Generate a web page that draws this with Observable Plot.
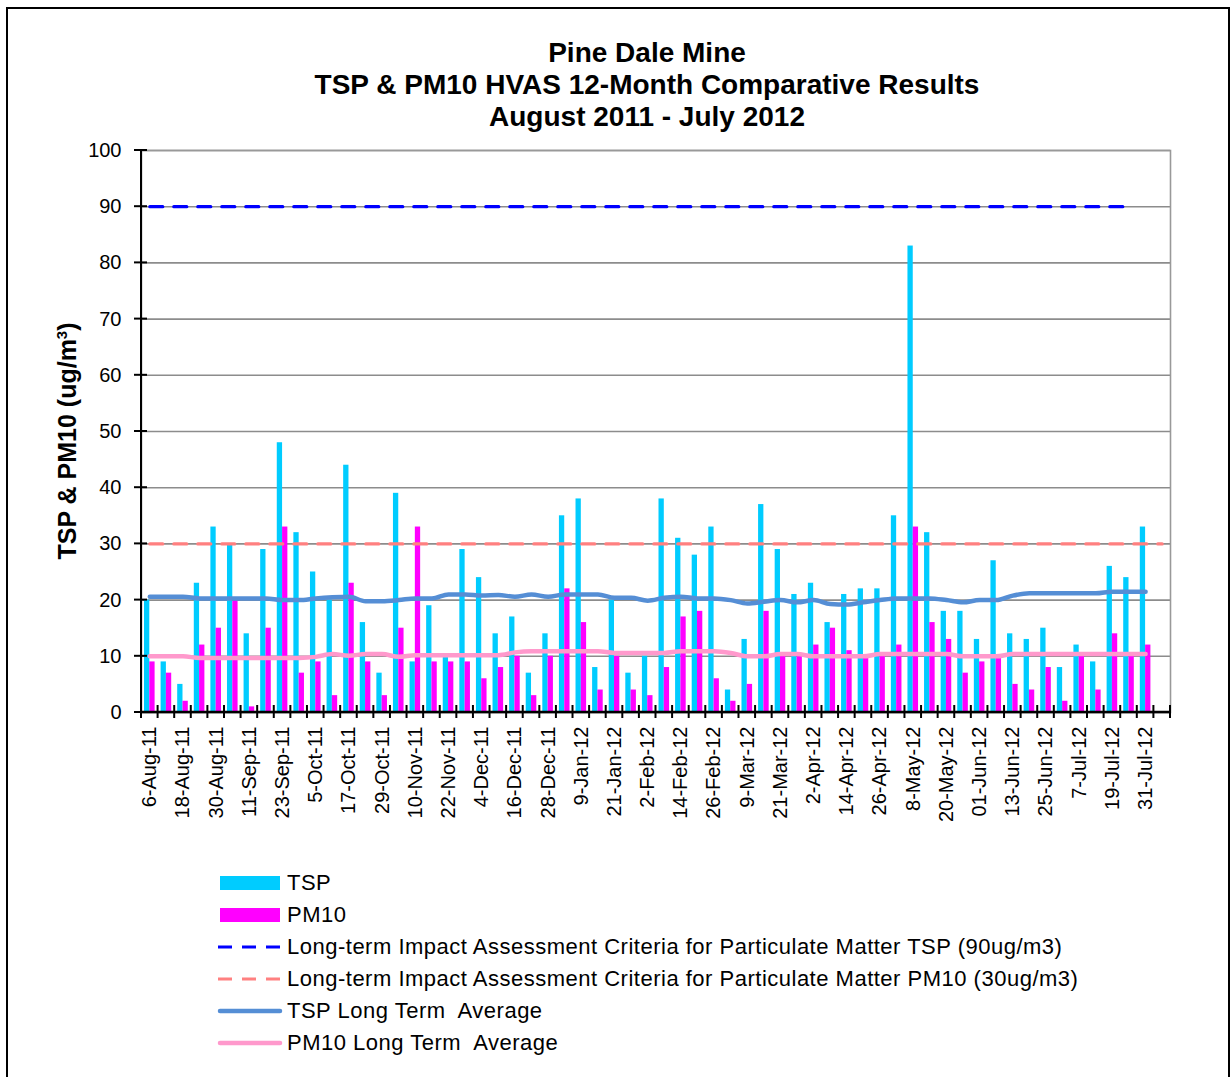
<!DOCTYPE html>
<html>
<head>
<meta charset="utf-8">
<script src="https://cdn.jsdelivr.net/npm/d3@7"></script>
<script src="https://cdn.jsdelivr.net/npm/@observablehq/plot@0.6"></script>
<style>
  html, body { margin: 0; padding: 0; background: #fff; }
  body { width: 1232px; height: 1077px; position: relative; overflow: hidden; font-family: "Liberation Sans", Arial, sans-serif; color: #000; }
  #border { position: absolute; left: 6px; top: 7px; width: 1224px; height: 1090px; border: 2px solid #000; box-sizing: border-box; }
  #title { position: absolute; left: 0; top: 37px; width: 1294px; text-align: center; font-weight: bold; font-size: 28px; line-height: 32px; }
  #ylabel { position: absolute; left: 67px; top: 441px; transform: translate(-50%, -50%) rotate(-90deg); white-space: nowrap; font-weight: bold; font-size: 25px; }
  #ylabel sup { font-size: 15px; vertical-align: 9px; line-height: 0; }
  #chart { position: absolute; left: 0; top: 140px; }
  #legend { position: absolute; left: 216px; top: 867px; font-size: 22px; letter-spacing: 0.5px; }
  .row { height: 32px; display: flex; align-items: center; }
  .row svg { width: 68px; height: 20px; margin-right: 3px; }
</style>
</head>
<body>
<div id="border"></div>
<div id="title">Pine Dale Mine<br>TSP &amp; PM10 HVAS 12-Month Comparative Results<br>August 2011 - July 2012</div>
<div id="ylabel">TSP &amp; PM10 (ug/m<sup>3</sup>)</div>
<div id="chart"></div>
<div id="legend"></div>
<script>
// ---------------- data ----------------
const categories = [
  "6-Aug-11","12-Aug-11","18-Aug-11","24-Aug-11","30-Aug-11","5-Sep-11","11-Sep-11","17-Sep-11",
  "23-Sep-11","29-Sep-11","5-Oct-11","11-Oct-11","17-Oct-11","23-Oct-11","29-Oct-11","4-Nov-11",
  "10-Nov-11","16-Nov-11","22-Nov-11","28-Nov-11","4-Dec-11","10-Dec-11","16-Dec-11","22-Dec-11",
  "28-Dec-11","3-Jan-12","9-Jan-12","15-Jan-12","21-Jan-12","27-Jan-12","2-Feb-12","8-Feb-12",
  "14-Feb-12","20-Feb-12","26-Feb-12","3-Mar-12","9-Mar-12","15-Mar-12","21-Mar-12","27-Mar-12",
  "2-Apr-12","8-Apr-12","14-Apr-12","20-Apr-12","26-Apr-12","2-May-12","8-May-12","14-May-12",
  "20-May-12","26-May-12","01-Jun-12","7-Jun-12","13-Jun-12","19-Jun-12","25-Jun-12","1-Jul-12",
  "7-Jul-12","13-Jul-12","19-Jul-12","25-Jul-12","31-Jul-12","6-Aug-12"
];
const tsp = [20,9,5,23,33,30,14,29,48,32,25,20,44,16,7,39,9,19,10,29,
             24,14,17,7,14,35,38,8,20,7,10,38,31,28,33,4,13,37,29,21,
             23,16,21,22,22,35,83,32,18,18,13,27,14,13,15,8,12,9,26,24,
             33,null];
const pm10 = [9,7,2,12,15,20,1,15,33,7,9,3,23,9,3,15,33,9,9,9,
              6,8,10,3,10,22,16,4,10,4,3,8,17,18,6,2,5,18,10,10,
              12,15,11,10,10,12,33,16,13,7,9,10,5,4,8,2,10,4,14,10,
              12,null];
const tspAverage = [20.6,20.6,20.6,20.3,20.3,20.3,20.3,20.3,20.0,20.0,
                    20.3,20.5,20.6,19.8,19.8,20.0,20.3,20.3,21.0,21.0,
                    20.8,20.9,20.6,21.0,20.6,21.0,21.0,21.0,20.4,20.4,
                    19.9,20.4,20.6,20.3,20.3,20.0,19.4,19.7,20.0,19.6,
                    20.0,19.3,19.2,19.6,20.0,20.3,20.3,20.3,20.0,19.6,
                    20.0,20.0,20.8,21.2,21.2,21.2,21.2,21.2,21.5,21.5,
                    21.5,null];
const pm10Average = [10.0,10.0,10.0,9.7,9.7,9.7,9.7,9.7,9.7,9.7,
                     9.9,10.4,10.1,10.4,10.4,9.9,10.2,10.2,10.2,10.2,
                     10.2,10.2,10.7,10.9,10.9,10.9,10.9,10.9,10.6,10.6,
                     10.6,10.6,10.9,10.9,10.9,10.6,10.0,10.0,10.4,10.4,
                     10.0,10.0,10.0,10.0,10.4,10.4,10.4,10.4,10.4,10.0,
                     10.0,10.0,10.4,10.4,10.4,10.4,10.4,10.4,10.4,10.4,
                     10.4,null];
const tspCriterion = 90;   // ug/m3, drawn over the first 60 sampling dates
const tspCriterionCount = 60;
const pm10Criterion = 30;  // ug/m3, drawn over every category
const yTicks = [0,10,20,30,40,50,60,70,80,90,100];
const xTickLabels = categories.filter((d, i) => i % 2 === 0);

const seriesNames = [
  "TSP",
  "PM10",
  "Long-term Impact Assessment Criteria for Particulate Matter TSP (90ug/m3)",
  "Long-term Impact Assessment Criteria for Particulate Matter PM10 (30ug/m3)",
  "TSP Long Term  Average",
  "PM10 Long Term  Average"
];

// ---------------- styles ----------------
const colors = {tsp: "#00CCFF", pm10: "#FF00FF", tspCrit: "#0000FF", pm10Crit: "#FF8080", tspAvg: "#558ED5", pm10Avg: "#FF99CC"};
const W = 1232, H = 682, mL = 141, mR = 62, mT = 10, mB = 110;
const band = (W - mL - mR) / categories.length;
const barW = 5.3;
const dash = "13,11";

const rows = categories.map((date, i) => ({
  date,
  tsp: tsp[i],
  pm10: pm10[i],
  tspAvg: tspAverage[i],
  pm10Avg: pm10Average[i],
  tspCrit: i < tspCriterionCount ? tspCriterion : null,
  pm10Crit: pm10Criterion
}));

// axis lines and tick marks that straddle the axes (Excel style)
function axesMark(index, scales, values, dims) {
  const g = d3.create("svg:g").attr("stroke", "#000").attr("fill", "none");
  const x0 = dims.marginLeft, x1 = dims.width - dims.marginRight;
  const yb = dims.height - dims.marginBottom, yt = dims.marginTop;
  g.append("line").attr("x1", x0).attr("x2", x0).attr("y1", yt).attr("y2", yb).attr("stroke-width", 2);
  g.append("line").attr("x1", x0).attr("x2", x1).attr("y1", yb).attr("y2", yb).attr("stroke-width", 2.5);
  for (const v of yTicks) {
    const y = scales.y(v);
    g.append("line").attr("x1", x0 - 7).attr("x2", x0 + 6).attr("y1", y).attr("y2", y).attr("stroke-width", 2);
  }
  const xs = categories.map(c => scales.x(c)).concat([x1]);
  for (const x of xs) {
    g.append("line").attr("x1", x).attr("x2", x).attr("y1", yb - 7).attr("y2", yb + 6).attr("stroke-width", 2);
  }
  return g.node();
}

const chart = Plot.plot({
  width: W, height: H,
  marginLeft: mL, marginRight: mR, marginTop: mT, marginBottom: mB,
  x: {domain: categories, padding: 0, axis: null, label: null},
  y: {domain: [0, 100], axis: null, label: null},
  style: {fontFamily: "'Liberation Sans', Arial, sans-serif", background: "transparent", color: "#000", overflow: "visible"},
  marks: [
    Plot.gridY(yTicks, {stroke: "#8c8c8c", strokeOpacity: 1, strokeWidth: 1.6}),
    Plot.frame({stroke: "#999", strokeWidth: 1.6}),
    Plot.barY(rows, {x: "date", y: "tsp", fill: colors.tsp, insetLeft: band / 2 - barW, insetRight: band / 2}),
    Plot.barY(rows, {x: "date", y: "pm10", fill: colors.pm10, insetLeft: band / 2, insetRight: band / 2 - barW}),
    Plot.lineY(rows, {x: "date", y: "tspCrit", stroke: colors.tspCrit, strokeWidth: 3.2, strokeDasharray: dash}),
    Plot.lineY(rows, {x: "date", y: "pm10Crit", stroke: colors.pm10Crit, strokeWidth: 3.2, strokeDasharray: dash}),
    Plot.lineY(rows, {x: "date", y: "tspAvg", stroke: colors.tspAvg, strokeWidth: 4.5, curve: "monotone-x", strokeLinecap: "round"}),
    Plot.lineY(rows, {x: "date", y: "pm10Avg", stroke: colors.pm10Avg, strokeWidth: 4.5, curve: "monotone-x", strokeLinecap: "round"}),
    Plot.axisY(yTicks, {tickSize: 0, tickPadding: 20, fontSize: 20, fill: "#000", label: null}),
    Plot.axisX(xTickLabels, {tickSize: 0, tickPadding: 14, tickRotate: -90, fontSize: 20, fill: "#000", label: null}),
    axesMark
  ]
});
document.getElementById("chart").appendChild(chart);

// ---------------- legend ----------------
const legend = d3.select("#legend");
const kinds = ["bar", "bar", "dash", "dash", "line", "line"];
const legendColors = [colors.tsp, colors.pm10, colors.tspCrit, colors.pm10Crit, colors.tspAvg, colors.pm10Avg];
seriesNames.forEach((name, i) => {
  const row = legend.append("div").attr("class", "row");
  const s = row.append("svg").attr("viewBox", "0 0 68 20");
  if (kinds[i] === "bar") {
    s.append("rect").attr("x", 4).attr("y", 3).attr("width", 60).attr("height", 14).attr("fill", legendColors[i]);
  } else if (kinds[i] === "dash") {
    s.append("line").attr("x1", 2).attr("x2", 66).attr("y1", 10).attr("y2", 10)
      .attr("stroke", legendColors[i]).attr("stroke-width", 3.2).attr("stroke-dasharray", "14,10");
  } else {
    s.append("line").attr("x1", 4).attr("x2", 64).attr("y1", 10).attr("y2", 10)
      .attr("stroke", legendColors[i]).attr("stroke-width", 4.5).attr("stroke-linecap", "round");
  }
  row.append("span").text(name).style("white-space", "pre");
});
</script>
</body>
</html>
